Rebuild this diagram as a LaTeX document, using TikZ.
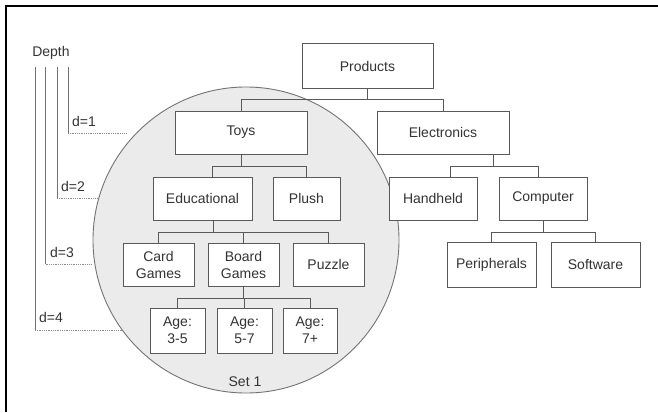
\documentclass[tikz,border=0pt]{standalone}
\usepackage{fontspec}
\setmainfont{Liberation Sans}
\begin{document}
\begin{tikzpicture}[x=1pt,y=-1pt,
  every node/.style={font=\fontsize{14}{17}\selectfont, text=black!80},
  box/.style={draw=black!65, line width=1pt, fill=white, inner sep=0pt, align=center, minimum height=43pt},
  conn/.style={draw=black!65, line width=1pt},
  depthline/.style={draw=black!55, line width=0.8pt},
  dotline/.style={draw=black!45, line width=0.8pt, densely dotted},
  lbl/.style={inner sep=0pt, anchor=west}]
\useasboundingbox (0,0) rectangle (658,412);
% frame
\draw[line width=2pt] (6,412) -- (6,6) -- (658,6);
% set circle
\filldraw[fill=black!8, draw=black!55, line width=0.9pt] (246,240) circle (153);
\node[inner sep=0pt] (set1) at (245,382) {Set 1};
% nodes
\node[box, minimum width=131pt, minimum height=44pt] (prod) at (367.5,66) {Products};
\node[box, minimum width=132pt] (toys) at (241,132.5) {Toys};
\node[box, minimum width=132pt] (elec) at (443,132.5) {Electronics};
\node[box, minimum width=99pt] (edu) at (202.5,198.5) {Educational};
\node[box, minimum width=67pt] (plush) at (306.5,198.5) {Plush};
\node[box, minimum width=88pt] (hand) at (433,198.5) {Handheld};
\node[box, minimum width=88pt] (comp) at (543,198.5) {Computer};
\node[box, minimum width=71pt] (card) at (158.5,264.5) {Card\\Games};
\node[box, minimum width=71pt] (board) at (243.5,264.5) {Board\\Games};
\node[box, minimum width=71pt] (puzzle) at (328.5,264.5) {Puzzle};
\node[box, minimum width=55pt, minimum height=45pt] (a35) at (177.5,330.5) {Age:\\3-5};
\node[box, minimum width=55pt, minimum height=45pt] (a57) at (244.5,330.5) {Age:\\5-7};
\node[box, minimum width=54pt, minimum height=45pt] (a7) at (310,330.5) {Age:\\7+};
\node[box, minimum width=89pt, minimum height=45pt] (peri) at (491.5,264.5) {Peripherals};
\node[box, minimum width=89pt, minimum height=45pt] (soft) at (595.5,264.5) {Software};
% connectors
\draw[conn] (prod.south) -- ++(0,11) -| (toys.north);
\draw[conn] (prod.south) -- ++(0,11) -| (elec.north);
\draw[conn] (toys.south) -- ++(0,12) -| ([xshift=9.5pt]edu.north);
\draw[conn] (toys.south) -- ++(0,12) -| (plush.north);
\draw[conn] ([xshift=50pt]elec.south) -- ++(0,12) -| ([xshift=17pt]hand.north);
\draw[conn] ([xshift=50pt]elec.south) -- ++(0,12) -| ([xshift=-5pt]comp.north);
\draw[conn] ([xshift=10.5pt]edu.south) -- ++(0,12) -| (card.north);
\draw[conn] ([xshift=10.5pt]edu.south) -- ++(0,12) -| (board.north);
\draw[conn] ([xshift=10.5pt]edu.south) -- ++(0,12) -| (puzzle.north);
\draw[conn] (board.south) -- ++(0,12) -| (a35.north);
\draw[conn] (board.south) -- ++(0,12) -| (a57.north);
\draw[conn] (board.south) -- ++(0,12) -| (a7.north);
\draw[conn] (comp.south) -- ++(0,12) -| (peri.north);
\draw[conn] (comp.south) -- ++(0,12) -| (soft.north);
% depth guide
\node[inner sep=0pt] (depth) at (51,53) {Depth};
\coordinate (v1) at (68,67); \coordinate (c1) at (68,133); \coordinate (e1) at (127,133);
\coordinate (v2) at (57,67); \coordinate (c2) at (57,198); \coordinate (e2) at (97,198);
\coordinate (v3) at (45.5,67); \coordinate (c3) at (45.5,264); \coordinate (e3) at (92,264);
\coordinate (v4) at (35,67); \coordinate (c4) at (35,330); \coordinate (e4) at (122,330);
\draw[depthline] (v1) -- (c1); \draw[dotline] (c1) -- (e1);
\draw[depthline] (v2) -- (c2); \draw[dotline] (c2) -- (e2);
\draw[depthline] (v3) -- (c3); \draw[dotline] (c3) -- (e3);
\draw[depthline] (v4) -- (c4); \draw[dotline] (c4) -- (e4);
\node[lbl] (d1) at (72,121) {d=1};
\node[lbl] (d2) at (61,186) {d=2};
\node[lbl] (d3) at (50,252) {d=3};
\node[lbl] (d4) at (39,317) {d=4};
\end{tikzpicture}
\end{document}
